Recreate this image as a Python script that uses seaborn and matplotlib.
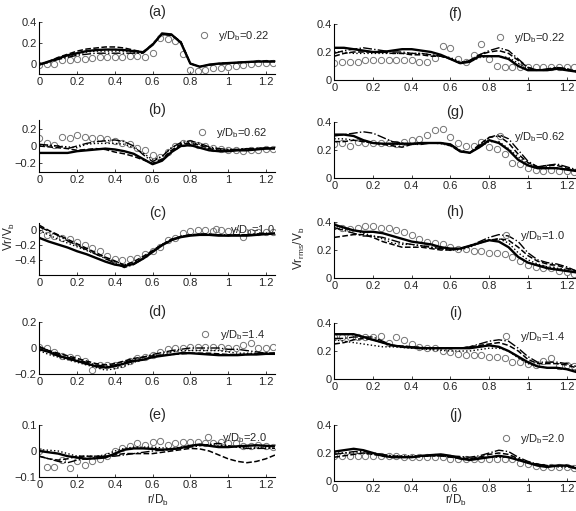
import matplotlib
matplotlib.use("Agg")
import matplotlib.pyplot as plt
import seaborn as sns
from matplotlib.lines import Line2D
from matplotlib.ticker import FuncFormatter

# radial positions of the computed profiles and of the measurements
r_line = [0.0, 0.05, 0.1, 0.15, 0.2, 0.25, 0.3, 0.35, 0.4, 0.45, 0.5, 0.55, 0.6,
          0.65, 0.7, 0.75, 0.8, 0.85, 0.9, 0.95, 1.0, 1.05, 1.1, 1.15, 1.2, 1.25]
r_circ = [0.0, 0.04, 0.08, 0.12, 0.16, 0.2, 0.24, 0.28, 0.32, 0.36, 0.4, 0.44, 0.48,
          0.52, 0.56, 0.6, 0.64, 0.68, 0.72, 0.76, 0.8, 0.84, 0.88, 0.92, 0.96, 1.0,
          1.04, 1.08, 1.12, 1.16, 1.2, 1.24]

# ---- mean radial velocity Vr/Vb ----
a_solid = [-0.01, 0.02, 0.05, 0.08, 0.10, 0.12, 0.13, 0.135, 0.135, 0.13, 0.12, 0.11, 0.18,
           0.29, 0.28, 0.20, 0.0, -0.03, -0.01, 0.0, 0.005, 0.01, 0.015, 0.02, 0.02, 0.02]
a_dash = [-0.01, 0.02, 0.06, 0.09, 0.12, 0.14, 0.15, 0.16, 0.16, 0.15, 0.13, 0.11, 0.19,
          0.28, 0.28, 0.21, 0.0, -0.03, -0.01, 0.0, 0.005, 0.01, 0.015, 0.02, 0.025, 0.02]
a_dashdot = [-0.01, 0.01, 0.04, 0.06, 0.08, 0.09, 0.10, 0.10, 0.10, 0.10, 0.10, 0.10, 0.18,
             0.28, 0.27, 0.21, 0.0, -0.03, -0.015, -0.005, 0.0, 0.01, 0.015, 0.02, 0.02, 0.02]
a_dot = [0.0, 0.02, 0.05, 0.07, 0.09, 0.11, 0.12, 0.12, 0.12, 0.12, 0.11, 0.10, 0.19,
         0.28, 0.28, 0.20, 0.0, -0.03, -0.01, 0.0, 0.005, 0.01, 0.015, 0.02, 0.02, 0.02]
a_circ = [-0.01, -0.007, 0.0, 0.03, 0.03, 0.04, 0.04, 0.05, 0.06, 0.06, 0.065, 0.065, 0.07,
          0.075, 0.06, 0.10, 0.25, 0.24, 0.22, 0.09, -0.065, -0.07, -0.065, -0.045, -0.04,
          -0.03, -0.02, -0.01, 0.0, 0.005, 0.01, 0.01]

b_solid = [-0.08, -0.08, -0.08, -0.08, -0.06, -0.05, -0.04, -0.03, -0.04, -0.06, -0.09, -0.15, -0.21,
           -0.17, -0.07, 0.0, 0.01, -0.02, -0.05, -0.06, -0.06, -0.05, -0.05, -0.04, -0.03, -0.03]
b_dash = [0.0, -0.01, -0.02, -0.03, -0.05, -0.04, -0.03, -0.04, -0.07, -0.09, -0.12, -0.16, -0.2,
          -0.15, -0.05, 0.02, 0.03, 0.01, -0.03, -0.05, -0.05, -0.04, -0.04, -0.03, -0.03, -0.02]
b_dashdot = [0.02, 0.01, 0.0, -0.03, 0.0, 0.03, 0.05, 0.06, 0.07, 0.05, 0.0, -0.1, -0.18,
             -0.12, -0.02, 0.04, 0.06, 0.03, -0.01, -0.03, -0.04, -0.04, -0.03, -0.03, -0.02, -0.02]
b_dot = [0.01, 0.005, 0.0, -0.01, -0.02, 0.02, 0.03, 0.03, 0.03, 0.02, -0.02, -0.08, -0.16,
         -0.12, -0.02, 0.03, 0.04, 0.02, -0.02, -0.04, -0.04, -0.04, -0.03, -0.03, -0.02, -0.02]
b_circ = [0.09, 0.03, 0.01, 0.1, 0.09, 0.13, 0.1, 0.09, 0.09, 0.08, 0.06, 0.04, 0.02, -0.02,
          -0.05, -0.1, -0.13, -0.07, 0.0, 0.03, 0.03, 0.01, 0.0, -0.02, -0.04, -0.05, -0.05,
          -0.06, -0.05, -0.05, -0.04, -0.03]

c_solid = [-0.1, -0.15, -0.19, -0.23, -0.28, -0.32, -0.37, -0.42, -0.46, -0.48, -0.45, -0.38, -0.29,
           -0.2, -0.13, -0.09, -0.07, -0.06, -0.06, -0.07, -0.07, -0.07, -0.07, -0.06, -0.05, -0.04]
c_dash = [0.07, 0.0, -0.06, -0.12, -0.18, -0.24, -0.3, -0.36, -0.41, -0.47, -0.42, -0.35, -0.27,
          -0.19, -0.12, -0.08, -0.06, -0.05, -0.05, -0.06, -0.07, -0.06, -0.06, -0.05, -0.05, -0.04]
c_dashdot = [0.05, -0.01, -0.07, -0.14, -0.2, -0.26, -0.32, -0.38, -0.44, -0.5, -0.46, -0.38, -0.28,
             -0.19, -0.12, -0.08, -0.06, -0.05, -0.05, -0.06, -0.06, -0.06, -0.06, -0.05, -0.04, -0.04]
c_dot = [0.0, -0.06, -0.12, -0.17, -0.22, -0.27, -0.32, -0.37, -0.42, -0.46, -0.44, -0.37, -0.28,
         -0.2, -0.13, -0.08, -0.06, -0.06, -0.06, -0.06, -0.07, -0.06, -0.06, -0.05, -0.05, -0.04]
c_circ = [0.0, -0.06, -0.08, -0.1, -0.12, -0.16, -0.2, -0.24, -0.28, -0.34, -0.39, -0.4, -0.39,
          -0.37, -0.32, -0.28, -0.22, -0.13, -0.1, -0.04, -0.01, 0.0, 0.0, -0.01, 0.0, -0.01,
          -0.02, -0.09, -0.02, -0.02, -0.02, -0.02]

d_solid = [-0.01, -0.03, -0.06, -0.08, -0.1, -0.12, -0.14, -0.15, -0.14, -0.12, -0.1, -0.09, -0.07,
           -0.06, -0.05, -0.04, -0.04, -0.045, -0.05, -0.055, -0.055, -0.055, -0.05, -0.05, -0.045, -0.045]
d_dash = [0.01, -0.02, -0.04, -0.06, -0.08, -0.1, -0.12, -0.13, -0.12, -0.1, -0.08, -0.07, -0.06,
          -0.055, -0.05, -0.045, -0.04, -0.04, -0.04, -0.045, -0.05, -0.05, -0.05, -0.045, -0.04, -0.04]
d_dashdot = [0.01, -0.02, -0.05, -0.07, -0.09, -0.11, -0.13, -0.14, -0.13, -0.11, -0.09, -0.07, -0.05,
             -0.035, -0.02, -0.01, 0.0, 0.0, 0.0, 0.0, -0.01, -0.01, -0.02, -0.03, -0.04, -0.04]
d_dot = [-0.02, -0.05, -0.07, -0.09, -0.11, -0.13, -0.15, -0.17, -0.16, -0.14, -0.11, -0.09, -0.07,
         -0.05, -0.03, -0.02, -0.02, -0.02, -0.02, -0.02, -0.03, -0.04, -0.04, -0.04, -0.04, -0.04]
d_circ = [0.01, 0.0, -0.03, -0.06, -0.07, -0.08, -0.1, -0.17, -0.13, -0.13, -0.13, -0.12, -0.1,
          -0.08, -0.07, -0.05, -0.03, -0.01, 0.0, 0.0, 0.01, 0.01, 0.01, 0.01, 0.01, 0.0, 0.0,
          0.02, 0.04, 0.0, 0.0, 0.01]

e_solid = [0.0, -0.005, -0.01, -0.02, -0.025, -0.03, -0.028, -0.025, -0.01, 0.005, 0.01, 0.01, 0.008,
           0.005, 0.007, 0.012, 0.02, 0.025, 0.02, 0.015, 0.015, 0.018, 0.02, 0.022, 0.02, 0.018]
e_dash = [-0.02, -0.03, -0.035, -0.03, -0.02, -0.02, -0.02, -0.02, -0.015, -0.01, -0.01, -0.01, -0.01,
          -0.005, 0.0, 0.005, 0.01, 0.008, 0.0, -0.015, -0.03, -0.04, -0.045, -0.04, -0.03, -0.015]
e_dashdot = [-0.02, -0.03, -0.04, -0.045, -0.035, -0.03, -0.025, -0.02, -0.02, -0.015, -0.01, -0.005, 0.0,
             0.003, 0.005, 0.01, 0.015, 0.02, 0.025, 0.03, 0.02, 0.015, 0.01, 0.01, 0.01, 0.01]
e_dot = [0.005, 0.003, 0.0, -0.01, -0.02, -0.02, -0.02, -0.015, 0.0, 0.01, 0.015, 0.015, 0.015,
         0.012, 0.01, 0.015, 0.02, 0.022, 0.025, 0.022, 0.02, 0.015, 0.01, 0.012, 0.015, 0.01]
e_circ = [0.0, -0.06, -0.06, -0.035, -0.065, -0.04, -0.055, -0.04, -0.03, -0.02, 0.0, 0.01, 0.02,
          0.03, 0.025, 0.035, 0.04, 0.025, 0.03, 0.035, 0.035, 0.035, 0.03, 0.03, 0.035, 0.03,
          0.03, 0.02, 0.02, 0.025, 0.02, 0.015]

# ---- rms radial velocity Vr_rms/Vb ----
f_solid = [0.23, 0.23, 0.22, 0.21, 0.2, 0.2, 0.21, 0.22, 0.22, 0.21, 0.2, 0.18, 0.15,
           0.12, 0.13, 0.17, 0.17, 0.17, 0.15, 0.1, 0.07, 0.07, 0.07, 0.08, 0.07, 0.06]
f_dash = [0.17, 0.19, 0.2, 0.2, 0.2, 0.2, 0.19, 0.19, 0.18, 0.18, 0.17, 0.17, 0.15,
          0.12, 0.14, 0.18, 0.2, 0.21, 0.19, 0.14, 0.09, 0.07, 0.07, 0.09, 0.08, 0.06]
f_dashdot = [0.19, 0.21, 0.22, 0.23, 0.22, 0.21, 0.2, 0.2, 0.19, 0.19, 0.18, 0.17, 0.15,
             0.12, 0.14, 0.18, 0.21, 0.23, 0.21, 0.15, 0.09, 0.07, 0.08, 0.09, 0.08, 0.06]
f_dot = [0.2, 0.2, 0.19, 0.19, 0.19, 0.19, 0.19, 0.19, 0.19, 0.19, 0.18, 0.17, 0.16,
         0.13, 0.13, 0.16, 0.17, 0.17, 0.16, 0.12, 0.08, 0.07, 0.07, 0.08, 0.07, 0.06]
f_circ = [0.12, 0.13, 0.13, 0.13, 0.14, 0.14, 0.14, 0.14, 0.14, 0.14, 0.14, 0.13, 0.13, 0.16,
          0.24, 0.23, 0.15, 0.13, 0.18, 0.26, 0.15, 0.1, 0.09, 0.09, 0.09, 0.09, 0.09, 0.09,
          0.09, 0.09, 0.09, 0.09]

g_solid = [0.31, 0.31, 0.3, 0.27, 0.25, 0.245, 0.245, 0.245, 0.245, 0.25, 0.25, 0.25, 0.24,
           0.19, 0.18, 0.22, 0.27, 0.25, 0.2, 0.13, 0.09, 0.07, 0.07, 0.07, 0.06, 0.05]
g_dash = [0.26, 0.26, 0.27, 0.26, 0.25, 0.24, 0.23, 0.22, 0.24, 0.25, 0.25, 0.25, 0.23,
          0.19, 0.18, 0.24, 0.29, 0.3, 0.25, 0.17, 0.11, 0.08, 0.09, 0.09, 0.07, 0.05]
g_dashdot = [0.3, 0.31, 0.32, 0.33, 0.32, 0.29, 0.26, 0.25, 0.24, 0.24, 0.25, 0.25, 0.24,
             0.2, 0.18, 0.23, 0.29, 0.31, 0.28, 0.2, 0.12, 0.08, 0.09, 0.1, 0.08, 0.06]
g_dot = [0.28, 0.28, 0.27, 0.26, 0.25, 0.245, 0.24, 0.24, 0.24, 0.245, 0.25, 0.245, 0.23,
         0.19, 0.18, 0.22, 0.26, 0.26, 0.21, 0.15, 0.1, 0.08, 0.08, 0.07, 0.06, 0.05]
g_circ = [0.24, 0.25, 0.23, 0.26, 0.25, 0.25, 0.25, 0.25, 0.24, 0.26, 0.27, 0.28, 0.31, 0.34,
          0.35, 0.29, 0.25, 0.23, 0.23, 0.26, 0.22, 0.21, 0.17, 0.11, 0.1, 0.07, 0.06, 0.05,
          0.06, 0.05, 0.05, 0.04]

h_solid = [0.38, 0.36, 0.34, 0.33, 0.33, 0.32, 0.3, 0.28, 0.26, 0.25, 0.24, 0.22, 0.21,
           0.21, 0.23, 0.25, 0.27, 0.26, 0.22, 0.15, 0.11, 0.09, 0.07, 0.06, 0.05, 0.04]
h_dash = [0.29, 0.3, 0.31, 0.31, 0.29, 0.26, 0.24, 0.22, 0.22, 0.22, 0.21, 0.2, 0.2,
          0.21, 0.23, 0.25, 0.27, 0.28, 0.27, 0.22, 0.16, 0.12, 0.1, 0.09, 0.07, 0.05]
h_dashdot = [0.36, 0.34, 0.32, 0.3, 0.3, 0.29, 0.27, 0.25, 0.24, 0.23, 0.22, 0.21, 0.2,
             0.21, 0.23, 0.26, 0.29, 0.31, 0.3, 0.26, 0.18, 0.13, 0.11, 0.1, 0.08, 0.05]
h_dot = [0.35, 0.35, 0.34, 0.32, 0.3, 0.28, 0.25, 0.24, 0.24, 0.23, 0.22, 0.21, 0.2,
         0.2, 0.22, 0.25, 0.27, 0.28, 0.25, 0.18, 0.13, 0.1, 0.08, 0.07, 0.06, 0.04]
h_circ = [0.37, 0.36, 0.35, 0.36, 0.37, 0.37, 0.36, 0.36, 0.34, 0.33, 0.31, 0.28, 0.26, 0.25,
          0.24, 0.22, 0.21, 0.21, 0.19, 0.19, 0.18, 0.18, 0.17, 0.15, 0.12, 0.09, 0.08, 0.07,
          0.07, 0.05, 0.04, 0.03]

i_solid = [0.32, 0.32, 0.32, 0.3, 0.28, 0.26, 0.24, 0.23, 0.225, 0.22, 0.22, 0.22, 0.22,
           0.22, 0.22, 0.23, 0.24, 0.23, 0.2, 0.16, 0.12, 0.09, 0.08, 0.08, 0.07, 0.05]
i_dash = [0.25, 0.26, 0.28, 0.29, 0.28, 0.26, 0.24, 0.235, 0.23, 0.225, 0.22, 0.22, 0.22,
          0.22, 0.23, 0.24, 0.25, 0.26, 0.24, 0.2, 0.14, 0.11, 0.11, 0.11, 0.1, 0.08]
i_dashdot = [0.29, 0.29, 0.3, 0.3, 0.3, 0.27, 0.24, 0.235, 0.23, 0.225, 0.22, 0.22, 0.22,
             0.22, 0.23, 0.25, 0.27, 0.28, 0.27, 0.22, 0.16, 0.12, 0.12, 0.12, 0.11, 0.09]
i_dot = [0.28, 0.27, 0.26, 0.25, 0.24, 0.23, 0.23, 0.225, 0.22, 0.215, 0.21, 0.205, 0.2,
         0.2, 0.2, 0.21, 0.22, 0.22, 0.2, 0.15, 0.11, 0.09, 0.08, 0.075, 0.07, 0.06]
i_circ = [0.3, 0.3, 0.3, 0.3, 0.3, 0.3, 0.31, 0.26, 0.3, 0.28, 0.25, 0.23, 0.22, 0.22, 0.2,
          0.19, 0.18, 0.17, 0.17, 0.17, 0.16, 0.16, 0.15, 0.12, 0.12, 0.11, 0.1, 0.13, 0.15,
          0.09, 0.1, 0.09]

j_solid = [0.21, 0.22, 0.23, 0.22, 0.2, 0.18, 0.17, 0.17, 0.17, 0.18, 0.185, 0.19, 0.18,
           0.16, 0.15, 0.16, 0.17, 0.18, 0.17, 0.15, 0.13, 0.11, 0.1, 0.11, 0.11, 0.09]
j_dash = [0.17, 0.18, 0.19, 0.2, 0.19, 0.18, 0.17, 0.17, 0.17, 0.175, 0.18, 0.18, 0.17,
          0.165, 0.16, 0.17, 0.19, 0.2, 0.19, 0.16, 0.13, 0.12, 0.11, 0.11, 0.11, 0.09]
j_dashdot = [0.19, 0.2, 0.21, 0.21, 0.2, 0.19, 0.18, 0.175, 0.17, 0.175, 0.18, 0.18, 0.18,
             0.175, 0.17, 0.18, 0.2, 0.22, 0.21, 0.17, 0.14, 0.12, 0.11, 0.11, 0.11, 0.1]
j_dot = [0.2, 0.2, 0.2, 0.2, 0.19, 0.185, 0.18, 0.18, 0.18, 0.18, 0.18, 0.18, 0.17,
         0.165, 0.16, 0.165, 0.17, 0.17, 0.17, 0.15, 0.13, 0.12, 0.11, 0.1, 0.1, 0.09]
j_circ = [0.18, 0.18, 0.18, 0.18, 0.18, 0.18, 0.18, 0.18, 0.18, 0.17, 0.17, 0.17, 0.17, 0.17,
          0.17, 0.16, 0.16, 0.16, 0.16, 0.16, 0.16, 0.16, 0.16, 0.16, 0.13, 0.12, 0.11, 0.1,
          0.1, 0.1, 0.1, 0.09]

panel_names = ["(a)", "(b)", "(c)", "(d)", "(e)", "(f)", "(g)", "(h)", "(i)", "(j)"]
heights = ["0.22", "0.62", "1.0", "1.4", "2.0"]
left_ylims = [(-0.1, 0.4), (-0.3, 0.3), (-0.6, 0.1), (-0.2, 0.2), (-0.1, 0.1)]
left_yticks = [[0, 0.2, 0.4], [-0.2, 0, 0.2], [-0.4, -0.2, 0], [-0.2, 0, 0.2], [-0.1, 0, 0.1]]
# legend anchor (right edge, vertical centre) in axes fraction
left_leg = [(0.975, 0.74), (0.965, 0.75), (1.0, 0.86), (0.955, 0.75), (0.965, 0.75)]
right_leg = [(0.955, 0.75), (0.955, 0.74), (0.955, 0.75), (0.955, 0.75), (0.955, 0.75)]

solid_all = [a_solid, b_solid, c_solid, d_solid, e_solid, f_solid, g_solid, h_solid, i_solid, j_solid]
dash_all = [a_dash, b_dash, c_dash, d_dash, e_dash, f_dash, g_dash, h_dash, i_dash, j_dash]
dashdot_all = [a_dashdot, b_dashdot, c_dashdot, d_dashdot, e_dashdot,
               f_dashdot, g_dashdot, h_dashdot, i_dashdot, j_dashdot]
dot_all = [a_dot, b_dot, c_dot, d_dot, e_dot, f_dot, g_dot, h_dot, i_dot, j_dot]
circ_all = [a_circ, b_circ, c_circ, d_circ, e_circ, f_circ, g_circ, h_circ, i_circ, j_circ]

sns.set_style("ticks")
plt.rcParams["font.family"] = ["Liberation Sans", "DejaVu Sans"]
plt.rcParams["mathtext.fontset"] = "custom"
plt.rcParams["mathtext.rm"] = "Liberation Sans"
plt.rcParams["mathtext.it"] = "Liberation Sans:italic"

W, H = 576, 511
fig = plt.figure(figsize=(W / 100, H / 100), dpi=100)

left_bottoms = [74, 172, 275, 374, 477]
right_bottoms = [80, 178, 278, 379, 481]
fmt = FuncFormatter(lambda v, p: f"{v:g}".replace("-", "\u2212"))
grey = "0.45"

for k in range(10):
    col, row = divmod(k, 5)
    if col == 0:
        ax = fig.add_axes([39.3 / W, 1 - left_bottoms[row] / H, 236 / W, 52 / H])
        ax.set_ylim(*left_ylims[row])
        ax.set_yticks(left_yticks[row])
        leg_pos = left_leg[row]
    else:
        ax = fig.add_axes([334.3 / W, 1 - right_bottoms[row] / H, 242 / W, 56 / H])
        ax.set_ylim(0, 0.4)
        ax.set_yticks([0, 0.2, 0.4])
        leg_pos = right_leg[row]

    sns.lineplot(x=r_circ, y=circ_all[k], ax=ax, linestyle="none", marker="o",
                 markersize=4.5, mfc="none", mec=grey, mew=0.7, color=grey)
    sns.lineplot(x=r_line, y=dot_all[k], ax=ax, color="k", linestyle=":", lw=1.0)
    sns.lineplot(x=r_line, y=dashdot_all[k], ax=ax, color="k", linestyle="-.", lw=1.0)
    sns.lineplot(x=r_line, y=dash_all[k], ax=ax, color="k", linestyle="--", lw=1.1)
    sns.lineplot(x=r_line, y=solid_all[k], ax=ax, color="k", linestyle="-", lw=1.7)

    ax.set_xlim(0, 1.25)
    ax.set_xticks([0, 0.2, 0.4, 0.6, 0.8, 1.0, 1.2])
    ax.xaxis.set_major_formatter(fmt)
    ax.yaxis.set_major_formatter(fmt)
    ax.tick_params(direction="in", length=2.5, width=0.6, labelsize=8, pad=2)
    sns.despine(ax=ax)
    for s in ("left", "bottom"):
        ax.spines[s].set_linewidth(0.8)
        ax.spines[s].set_color("k")
    ax.set_xlabel("")
    ax.set_ylabel("")
    ax.set_title(panel_names[k], fontsize=10.5, pad=4)

    handle = Line2D([], [], linestyle="none", marker="o", markersize=4.5,
                    mfc="none", mec=grey, mew=0.7)
    ax.legend([handle], [r"y/D$_\mathrm{b}$=" + heights[row]], loc="center right",
              bbox_to_anchor=leg_pos, frameon=False, fontsize=8, handlelength=1.2,
              handletextpad=0.7, borderpad=0, borderaxespad=0)

fig.text(9 / W, 1 - 236 / H, r"Vr/V$_\mathrm{b}$", rotation=90, ha="center", va="center", fontsize=8.5)
fig.text(299 / W, 1 - 248 / H, r"Vr$_\mathrm{rms}$/V$_\mathrm{b}$", rotation=90, ha="center",
         va="center", fontsize=8.5)
fig.text(158 / W, 1 - 500 / H, r"r/D$_\mathrm{b}$", ha="center", va="center", fontsize=8.5)
fig.text(456 / W, 1 - 500 / H, r"r/D$_\mathrm{b}$", ha="center", va="center", fontsize=8.5)

fig.savefig("out.png", dpi=100)
